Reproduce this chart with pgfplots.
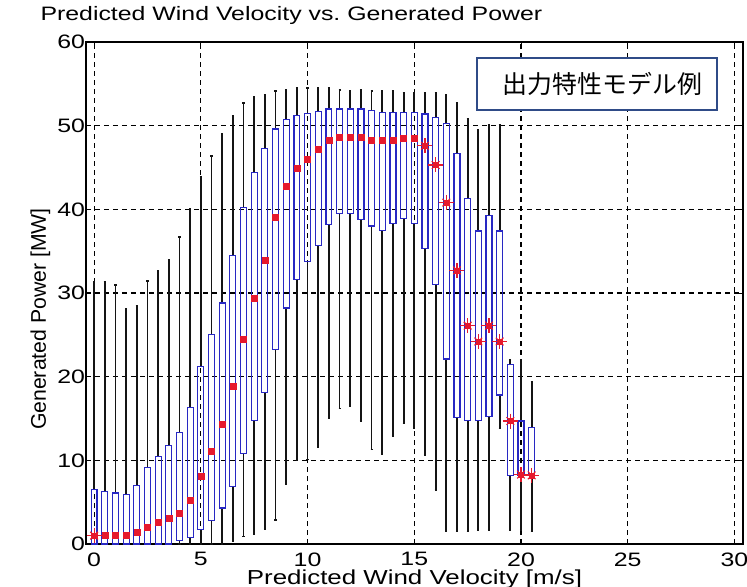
\documentclass[border=0pt]{standalone}
\usepackage{fontspec}
\setmainfont{Liberation Sans}[FakeStretch=1.28]
\newfontfamily\plainsans{Liberation Sans}
\newfontfamily\cjk{Noto Sans CJK JP}
\usepackage{pgfplots}
\usepackage{pgfplotstable}
\pgfplotsset{compat=1.18}
\usepgfplotslibrary{statistics}

\definecolor{boxblue}{RGB}{40,40,195}
\definecolor{medred}{RGB}{230,25,45}
\definecolor{noteframe}{RGB}{47,75,135}
\definecolor{whisk}{RGB}{20,20,20}

% wind speed bin, lower whisker, q1, median, q3, upper whisker
\pgfplotstableread{
x    lw    q1    med   q3    uw
0    0     0     1.0   6.5   31.3
0.5  0     0     1.0   6.3   31.3
1    0     0     1.0   6.1   31.0
1.5  0     0     1.0   5.9   28.1
2    0     0     1.4   7.0   28.4
2.5  0     0     2.0   9.1   31.4
3    0     0     2.6   10.5  32.7
3.5  0     0     3.1   11.8  34.0
4    0     0.4   3.7   13.3  36.7
4.5  0     0.8   5.2   16.3  40.1
5    0     1.7   8.1   21.2  43.9
5.5  0     2.8   11.1  25.0  46.4
6    0     4.3   14.3  28.8  49.0
6.5  0.3   6.9   18.9  34.5  51.2
7    0.9   10.8  24.5  40.2  52.7
7.5  1.2   14.8  29.4  44.4  53.4
8    1.8   18.1  33.9  47.3  53.7
8.5  2.9   23.2  39.0  49.6  54.1
9    7.1   28.2  42.8  50.7  54.3
9.5  10.0  31.6  44.9  51.2  54.5
10   10.1  33.8  46.0  51.5  54.5
10.5 11.6  35.7  47.2  51.7  54.5
11   15.0  38.2  48.3  52.0  54.5
11.5 16.2  39.5  48.6  52.0  54.3
12   16.5  39.5  48.6  52.0  54.1
12.5 14.7  38.8  48.6  52.0  54.3
13   11.3  38.0  48.3  51.8  54.1
13.5 10.7  37.5  48.3  51.6  54.1
14   12.9  38.3  48.3  51.6  54.1
14.5 14.4  38.9  48.5  51.6  53.9
15   13.8  38.3  48.5  51.6  53.9
15.5 10.6  35.3  47.6  51.4  53.9
16   6.5   31.0  45.3  51.0  53.9
16.5 1.5   22.1  40.8  50.3  53.7
17   1.5   15.1  32.7  46.7  52.7
17.5 1.5   14.8  26.1  41.3  50.8
18   1.7   14.8  24.2  37.4  49.5
18.5 1.7   15.2  26.1  39.3  50.1
19   13.8  17.8  24.2  37.4  50.1
19.5 1.7   8.2   14.7  21.5  22.0
20   1.7   8.2   8.3   14.7  22.0
20.5 1.5   8.2   8.2   13.9  19.4
}\boxdata

\begin{document}
\begin{tikzpicture}
\begin{axis}[
    scale only axis,
    width=657bp, height=502bp,
    xmin=-0.38, xmax=30.4,
    ymin=0, ymax=60,
    xtick={0,5,...,30},
    ytick={0,10,...,60},
    grid=major,
    major grid style={black, line width=1.1bp, dash pattern=on 5bp off 4bp},
    axis line style={black, line width=1.3bp},
    tick style={black, line width=0.9bp},
    major tick length=4bp,
    /pgf/number format/assume math mode=true,
    ticklabel style={font=\fontsize{19.5}{20}\selectfont},
    yticklabel style={xshift=2.5bp},
    xticklabel style={yshift=-5bp},
    title={Predicted Wind Velocity vs.\ Generated Power},
    title style={at={([xshift=-49bp,yshift=16bp]axis description cs:0,1)},
      anchor=base west, font=\fontsize{19.5}{20}\selectfont},
    xlabel={Predicted Wind Velocity [m/s]},
    xlabel style={at={([yshift=-40bp]axis description cs:0.5,0)},
      anchor=base, font=\fontsize{20.3}{21}\selectfont},
    ylabel={Generated Power [MW]},
    ylabel style={at={([xshift=-40bp]axis description cs:0,0.448)},
      anchor=base, font=\plainsans\fontsize{21.3}{22}\selectfont},
    boxplot/draw direction=y,
    boxplot/box extend=0.28,
    boxplot/whisker extend=0.1,
    boxplot/every whisker/.style={draw=whisk, line width=1.8bp},
    boxplot/every median/.style={draw=none},
    boxplot/every box/.style={draw=boxblue, line width=1.2bp},
]
\pgfplotsinvokeforeach{0,...,41}{
  \pgfplotstablegetelem{#1}{x}\of\boxdata \let\bX\pgfplotsretval
  \pgfplotstablegetelem{#1}{lw}\of\boxdata \let\bLW\pgfplotsretval
  \pgfplotstablegetelem{#1}{q1}\of\boxdata \let\bQA\pgfplotsretval
  \pgfplotstablegetelem{#1}{med}\of\boxdata \let\bMed\pgfplotsretval
  \pgfplotstablegetelem{#1}{q3}\of\boxdata \let\bQC\pgfplotsretval
  \pgfplotstablegetelem{#1}{uw}\of\boxdata \let\bUW\pgfplotsretval
  \edef\doplot{\noexpand\addplot[draw=boxblue, line width=1.2bp,
    boxplot prepared={draw position=\bX, lower whisker=\bLW,
      lower quartile=\bQA, median=\bMed, upper quartile=\bQC,
      upper whisker=\bUW}] coordinates {};}
  \doplot
}
% medians as squares
\addplot[only marks, mark=square*, mark size=3bp, color=medred,
  skip coords between index={0}{1}, skip coords between index={31}{42}]
  table[x=x, y=med] {\boxdata};
% medians as stars
\addplot[only marks, mark=+, mark size=7.5bp, color=medred, line width=1.1bp,
  skip coords between index={1}{31}] table[x=x, y=med] {\boxdata};
\addplot[only marks, mark=x, mark size=5.4bp, color=medred, line width=1.1bp,
  skip coords between index={1}{31}] table[x=x, y=med] {\boxdata};
\addplot[only marks, mark=square*, mark size=2.6bp, color=medred,
  skip coords between index={1}{31}] table[x=x, y=med] {\boxdata};

\node[draw=noteframe, line width=2bp, fill=white, minimum width=240bp,
  minimum height=52bp, inner sep=0pt] at (rel axis cs:0.778,0.917) {};
\node[font=\cjk\fontsize{25}{25}\selectfont, inner sep=0pt]
  at (rel axis cs:0.786,0.917) {出力特性モデル例};
\coordinate (bbsw) at (rel axis cs:0,0);
\coordinate (bbne) at (rel axis cs:1,1);
\end{axis}
\pgfresetboundingbox
\path ([xshift=-86bp,yshift=-43bp]bbsw) rectangle ([xshift=4bp,yshift=42bp]bbne);
\end{tikzpicture}
\end{document}
